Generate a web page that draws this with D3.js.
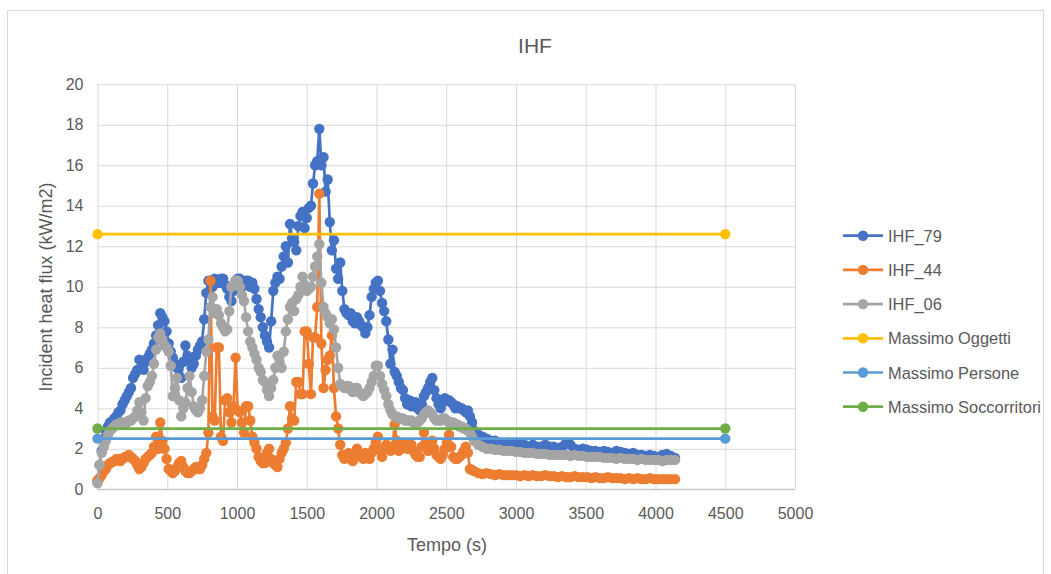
<!DOCTYPE html>
<html><head><meta charset="utf-8">
<script src="https://cdn.jsdelivr.net/npm/d3@7"></script>
<style>
html,body{margin:0;padding:0;background:#fff;}
svg{display:block;font-family:"Liberation Sans",Arial,sans-serif;}
</style></head>
<body><svg id="c" width="1051" height="574"></svg>
<script>
const tempo = [0,15,30,45,60,75,90,105,120,135,
150,165,180,195,210,225,240,255,270,285,
300,315,330,345,360,375,390,405,420,435,
450,465,480,495,510,525,540,555,570,585,
600,615,630,645,660,675,690,705,720,735,
750,765,780,795,810,825,840,855,870,885,
900,915,930,945,960,975,990,1005,1020,1035,
1050,1065,1080,1095,1110,1125,1140,1155,1170,1185,
1200,1215,1230,1245,1260,1275,1290,1305,1320,1335,
1350,1365,1380,1395,1410,1425,1440,1455,1470,1485,
1500,1515,1530,1545,1560,1575,1590,1605,1620,1635,
1650,1665,1680,1695,1710,1725,1740,1755,1770,1785,
1800,1815,1830,1845,1860,1875,1890,1905,1920,1935,
1950,1965,1980,1995,2010,2025,2040,2055,2070,2085,
2100,2115,2130,2145,2160,2175,2190,2205,2220,2235,
2250,2265,2280,2295,2310,2325,2340,2355,2370,2385,
2400,2415,2430,2445,2460,2475,2490,2505,2520,2535,
2550,2565,2580,2595,2610,2625,2640,2655,2670,2685,
2700,2730,2760,2790,2820,2850,2880,2910,2940,2970,
3000,3030,3060,3090,3120,3150,3180,3210,3240,3270,
3300,3330,3360,3390,3420,3450,3480,3510,3540,3570,
3600,3630,3660,3690,3720,3750,3780,3810,3840,3870,
3900,3930,3960,3990,4020,4050,4080,4110,4140];

const ihf79 = [0.4,1.2,1.9,2.5,2.9,3.1,3.3,3.2,3.5,3.6,
3.8,3.9,4.2,4.4,4.6,4.8,5.0,5.5,5.7,5.9,
6.4,6.0,5.9,6.3,6.5,6.7,6.9,7.2,7.6,8.1,
8.7,8.5,8.3,7.8,7.2,6.8,6.5,6.2,6.0,5.6,
5.5,6.3,7.1,6.6,6.4,6.0,6.2,6.6,6.9,7.1,
7.3,8.4,9.7,10.3,10.3,10.0,10.4,10.3,10.2,10.4,
10.4,10.1,9.9,9.5,9.3,9.8,10.3,10.4,10.4,10.0,
10.1,10.3,10.3,10.0,10.2,9.9,9.4,8.9,8.5,8.0,
7.6,7.3,7.0,8.3,9.8,10.2,10.5,10.4,11.0,11.5,
12.0,11.2,13.1,12.4,12.2,11.8,13.0,13.5,13.7,12.9,
13.4,13.9,14.0,15.1,16.0,16.2,17.8,16.0,16.4,14.7,
15.3,13.2,11.8,12.3,10.9,10.4,11.2,9.8,8.9,8.7,
8.6,8.7,8.3,8.2,8.5,8.3,8.1,8.0,7.7,8.0,
8.6,9.5,9.9,10.2,10.3,9.8,9.2,8.8,8.3,7.4,
6.2,6.9,5.8,5.6,5.3,5.0,4.9,4.5,4.2,4.4,
4.1,4.3,4.3,4.0,3.9,4.2,4.6,4.8,5.0,5.3,
5.5,4.9,4.5,4.2,4.0,4.3,4.5,4.4,4.4,4.3,
4.2,4.0,4.1,4.0,4.0,3.9,3.8,3.9,3.6,3.3,
2.9,2.7,2.6,2.5,2.4,2.4,2.3,2.3,2.3,2.2,
2.2,2.2,2.2,2.1,2.2,2.1,2.1,2.2,2.1,2.1,
2.0,2.1,2.3,2.2,2.0,1.95,2.0,1.95,1.9,1.9,
1.85,1.9,1.85,1.8,1.9,1.85,1.8,1.75,1.8,1.7,
1.7,1.65,1.7,1.65,1.6,1.7,1.75,1.65,1.55];

const ihf44 = [0.45,0.55,0.7,0.9,1.0,1.2,1.3,1.35,1.4,1.5,
1.5,1.4,1.5,1.6,1.6,1.7,1.6,1.5,1.4,1.2,
1.0,1.1,1.3,1.5,1.6,1.7,1.8,2.1,2.6,2.0,
3.3,2.4,2.0,1.5,1.0,0.9,0.8,0.9,1.1,1.3,
1.4,1.1,0.9,0.8,0.8,0.9,1.0,1.1,1.0,1.0,
1.2,1.5,1.8,2.8,10.3,3.6,3.4,7.0,7.0,2.6,
2.4,4.4,4.5,3.8,3.3,4.1,6.5,3.9,3.8,3.3,
2.8,4.1,4.1,3.4,2.6,2.3,2.0,1.6,1.4,1.3,
1.3,1.8,2.0,1.5,1.3,1.2,1.1,1.5,1.8,2.0,
2.3,3.0,4.1,3.5,3.4,5.3,5.3,4.7,4.7,7.8,
7.8,6.2,4.7,7.5,7.5,9.0,14.6,7.2,5.0,5.9,
6.4,6.6,7.6,5.0,3.6,3.0,2.2,1.7,1.5,1.6,
1.8,1.5,1.4,1.7,2.0,1.8,1.6,1.5,1.8,1.6,
1.5,1.8,2.0,2.3,2.6,1.9,1.6,2.0,2.2,2.1,
1.9,2.1,3.2,2.4,1.9,2.0,2.3,2.1,2.0,2.2,
2.2,1.9,1.7,1.6,1.6,2.1,2.8,2.3,1.9,2.2,
2.4,2.0,1.7,1.6,1.5,1.7,2.0,2.3,2.7,2.1,
1.6,1.5,1.5,1.6,1.7,1.9,2.1,1.8,1.0,0.95,
0.9,0.8,0.75,0.8,0.75,0.7,0.75,0.7,0.7,0.7,
0.7,0.65,0.7,0.65,0.7,0.65,0.65,0.7,0.65,0.65,
0.6,0.65,0.6,0.6,0.65,0.6,0.6,0.6,0.55,0.6,
0.55,0.55,0.6,0.55,0.55,0.55,0.5,0.55,0.5,0.55,
0.5,0.5,0.55,0.5,0.5,0.5,0.5,0.5,0.5];

const ihf06 = [0.3,1.2,1.8,2.1,2.4,2.7,2.9,3.0,3.1,3.2,
3.2,3.3,3.3,3.3,3.3,3.4,3.4,3.5,3.6,3.9,
4.3,3.8,3.4,4.5,5.1,5.3,5.6,6.2,6.9,7.5,
7.7,7.4,7.1,7.0,6.8,6.1,4.6,5.0,5.5,4.4,
3.6,4.0,4.3,5.0,5.6,4.8,4.1,3.9,3.8,4.0,
4.4,5.6,6.8,7.4,9.0,9.5,8.7,8.9,8.6,8.2,
8.0,7.8,7.9,8.8,10.0,10.1,10.3,10.3,10.0,9.6,
9.3,8.5,7.8,7.3,7.0,6.7,6.4,6.0,5.8,5.4,
5.3,4.9,4.6,5.0,5.4,6.0,6.6,6.3,6.0,6.8,
7.8,8.4,9.0,9.2,8.8,9.4,9.6,10.0,10.5,10.1,
9.8,9.9,10.0,10.5,11.0,11.5,12.1,10.2,9.0,8.7,
8.5,8.2,8.4,7.9,7.0,6.0,5.2,5.1,5.0,5.1,
5.1,4.9,4.8,5.0,5.0,4.8,4.7,4.6,4.7,4.8,
5.0,5.3,5.6,6.1,6.1,5.6,5.2,4.9,4.6,4.2,
3.9,3.7,3.6,3.6,3.5,3.5,3.5,3.4,3.4,3.4,
3.4,3.3,3.3,3.3,3.4,3.5,3.7,3.8,3.9,3.8,
3.7,3.5,3.4,3.4,3.4,3.5,3.5,3.4,3.3,3.3,
3.3,3.2,3.2,3.1,3.1,3.0,3.0,2.9,2.8,2.6,
2.4,2.2,2.1,2.0,2.0,1.95,1.95,1.9,1.9,1.9,
1.85,1.85,1.8,1.8,1.8,1.75,1.75,1.75,1.7,1.7,
1.7,1.7,1.7,1.65,1.7,1.65,1.65,1.6,1.6,1.6,
1.6,1.55,1.55,1.55,1.5,1.55,1.5,1.5,1.5,1.45,
1.5,1.45,1.45,1.45,1.45,1.4,1.45,1.45,1.45];

const refTempo = [0, 4500];
const massimoOggetti = [12.6, 12.6];
const massimoPersone = [2.5, 2.5];
const massimoSoccorritori = [3.0, 3.0];

const seriesNames = ["IHF_79","IHF_44","IHF_06","Massimo Oggetti","Massimo Persone","Massimo Soccorritori"];
const xTicks = [0,500,1000,1500,2000,2500,3000,3500,4000,4500,5000];
const yTicks = [0,2,4,6,8,10,12,14,16,18,20];
const chartTitle = "IHF";
const xTitle = "Tempo (s)";
const yTitle = "Incident heat flux (kW/m2)";

const colors = ["#4472C4","#ED7D31","#A5A5A5","#FFC000","#5B9BD5","#70AD47"];
const seriesData = [
  [tempo, ihf79], [tempo, ihf44], [tempo, ihf06],
  [refTempo, massimoOggetti], [refTempo, massimoPersone], [refTempo, massimoSoccorritori]
];

const svg = d3.select("#c");
svg.append("rect").attr("x",0).attr("y",0).attr("width",1051).attr("height",574).attr("fill","#fff");
svg.append("rect").attr("x",7.5).attr("y",10.5).attr("width",1036).attr("height",580)
  .attr("fill","none").attr("stroke","#d9d9d9").attr("stroke-width",1);

const L = 97.5, R = 795, T = 84.3, B = 489.3;
const x = d3.scaleLinear().domain([0,5000]).range([L,R]);
const y = d3.scaleLinear().domain([0,20]).range([B,T]);
const txtColor = "#595959";
const fmt = d3.format("d");

const gy = svg.append("g").attr("transform",`translate(${L},0)`)
  .call(d3.axisLeft(y).tickValues(yTicks).tickFormat(fmt).tickSize(-(R-L)).tickPadding(14));
gy.select(".domain").remove();
gy.selectAll(".tick line").attr("stroke","#d9d9d9").attr("stroke-width",1);
gy.selectAll(".tick text").attr("fill",txtColor).attr("font-size",16).attr("font-family","Liberation Sans, Arial, sans-serif");

const gx = svg.append("g").attr("transform",`translate(0,${B})`)
  .call(d3.axisBottom(x).tickValues(xTicks).tickFormat(fmt).tickSize(-(B-T)).tickPadding(18));
gx.select(".domain").remove();
gx.selectAll(".tick line").attr("stroke","#d9d9d9").attr("stroke-width",1);
gx.selectAll(".tick text").attr("fill",txtColor).attr("font-size",16).attr("font-family","Liberation Sans, Arial, sans-serif");

svg.append("line").attr("x1",L).attr("x2",R).attr("y1",B).attr("y2",B)
  .attr("stroke","#bfbfbf").attr("stroke-width",1);

const line = d3.line().x(d=>x(d[0])).y(d=>y(d[1]));
seriesData.forEach((s,i)=>{
  const pts = s[0].map((t,k)=>[t, s[1][k]]);
  const g = svg.append("g");
  g.append("path").datum(pts).attr("d",line).attr("fill","none")
    .attr("stroke",colors[i]).attr("stroke-width",2.7).attr("stroke-linejoin","round");
  g.selectAll("circle").data(pts).join("circle")
    .attr("cx",d=>x(d[0])).attr("cy",d=>y(d[1])).attr("r",5.2).attr("fill",colors[i]);
});

svg.append("text").attr("x",535).attr("y",53).attr("text-anchor","middle")
  .attr("fill",txtColor).attr("font-size",21).text(chartTitle);
svg.append("text").attr("x",447).attr("y",551).attr("text-anchor","middle")
  .attr("fill",txtColor).attr("font-size",18).text(xTitle);
svg.append("text").attr("transform",`translate(52,287) rotate(-90)`).attr("text-anchor","middle")
  .attr("fill",txtColor).attr("font-size",18).text(yTitle);

const leg = svg.append("g");
seriesNames.forEach((n,i)=>{
  const cy = 235.7 + i*34.2;
  leg.append("line").attr("x1",843).attr("x2",883).attr("y1",cy).attr("y2",cy)
    .attr("stroke",colors[i]).attr("stroke-width",2.7);
  leg.append("circle").attr("cx",863).attr("cy",cy).attr("r",5.2).attr("fill",colors[i]);
  leg.append("text").attr("x",888).attr("y",cy+6).attr("fill",txtColor)
    .attr("font-size",16.4).text(n);
});
</script></body></html>
